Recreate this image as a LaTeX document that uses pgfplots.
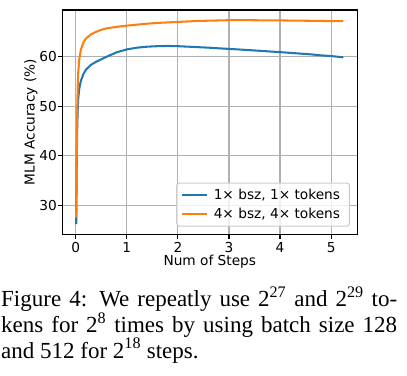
\documentclass[border=0pt]{standalone}
\usepackage{fontspec}
\setmainfont{Liberation Serif}
\newfontfamily\dejavu{DejaVu Sans}
\usepackage{pgfplots}
\pgfplotsset{compat=1.18}
\definecolor{mplblue}{HTML}{1F77B4}
\definecolor{mplorange}{HTML}{FF7F0E}
\begin{document}
\begin{tikzpicture}[x=1pt,y=1pt]
\path[use as bounding box] (0,0) rectangle (407,-375);
\begin{axis}[
  at={(62.3pt,-10pt)}, anchor=north west,
  scale only axis, width=295pt, height=224.3pt,
  xmin=-0.2625, xmax=5.5125, ymin=24.14, ymax=69.46,
  xtick={0,1,2,3,4,5}, ytick={30,40,50,60},
  tick pos=left, tick align=outside, major tick length=4.3pt,
  grid=major, major grid style={color=black!31, line width=1.1pt},
  axis line style={line width=1.1pt},
  tick style={black, line width=1.1pt},
  /pgf/number format/assume math mode=true,
  ticklabel style={font=\dejavu\fontsize{13.7}{16}\selectfont, inner sep=0pt},
  xticklabel style={anchor=north, yshift=-3.4pt},
  yticklabel style={anchor=east, xshift=-1.0pt},
  xticklabel shift=0pt, yticklabel shift=0pt,
  label style={font=\dejavu\fontsize{13.7}{16}\selectfont},
  xlabel={Num of Steps}, ylabel={MLM Accuracy (\%)},
  xlabel style={at={(axis description cs:0.5,-0.121)}, anchor=center},
  ylabel style={at={(axis description cs:-0.107,0.5)}, anchor=center},
  legend style={at={(0.9753,0.0339)}, anchor=south east, draw=black!20, line width=1.1pt,
    rounded corners=2.7pt, fill=white, fill opacity=0.8, text opacity=1,
    font=\dejavu\fontsize{13.7}{16}\selectfont, inner xsep=4pt, inner ysep=2.6pt,
    row sep=0pt, column sep=0pt, nodes={inner xsep=5.4pt, inner ysep=3.5pt}},
  legend cell align=left,
  legend image code/.code={\draw[#1] (0pt,0pt) -- (25.6pt,0pt);},
]
\addplot[mplblue, line width=2.05pt] coordinates {
(0.01,26.2) (0.02,38) (0.03,46) (0.04,49.7) (0.05,51.6) (0.07,53.6) (0.1,55.1)
(0.15,56.5) (0.2,57.4) (0.3,58.4) (0.4,59.0) (0.5,59.5) (0.6,60.0) (0.8,60.9)
(1.0,61.5) (1.2,61.85) (1.4,62.05) (1.6,62.15) (1.8,62.2) (2.0,62.15) (2.2,62.05)
(2.4,61.95) (2.6,61.85) (2.8,61.72) (3.0,61.6) (3.2,61.48) (3.4,61.35) (3.6,61.22)
(3.8,61.08) (4.0,60.95) (4.2,60.8) (4.4,60.65) (4.6,60.5) (4.8,60.3) (5.0,60.15) (5.24,59.9)
};
\addlegendentry{1× bsz, 1× tokens}
\addplot[mplorange, line width=2.05pt] coordinates {
(0.01,27.5) (0.02,40) (0.03,50) (0.04,54.3) (0.05,56.9) (0.07,59.5) (0.1,61.4)
(0.15,62.9) (0.2,63.7) (0.3,64.55) (0.4,65.05) (0.5,65.45) (0.6,65.75) (0.8,66.05)
(1.0,66.3) (1.2,66.5) (1.4,66.7) (1.6,66.85) (1.8,66.95) (2.0,67.05) (2.2,67.15)
(2.4,67.25) (2.6,67.3) (2.8,67.35) (3.0,67.4) (3.2,67.42) (3.4,67.4) (3.6,67.38)
(3.8,67.36) (4.0,67.35) (4.2,67.33) (4.4,67.3) (4.6,67.28) (4.8,67.25) (5.0,67.22) (5.24,67.2)
};
\addlegendentry{4× bsz, 4× tokens}
\node[anchor=east, font=\dejavu\fontsize{7}{8}\selectfont, inner sep=0pt] at (axis description cs:0.9988,-0.105) {1e5};
\end{axis}
\begin{scope}[every node/.style={anchor=base west, inner sep=0pt, font=\fontsize{23}{26}\selectfont}]
\node at (1,-306.7) {\makebox[396pt][s]{Figure 4: We repeatly use 2\textsuperscript{27} and 2\textsuperscript{29} to-}};
\node at (1,-332.2) {\makebox[396pt][s]{kens for 2\textsuperscript{8} times by using batch size 128}};
\node at (1,-358) {and 512 for 2\textsuperscript{18} steps.};
\end{scope}
\end{tikzpicture}
\end{document}
